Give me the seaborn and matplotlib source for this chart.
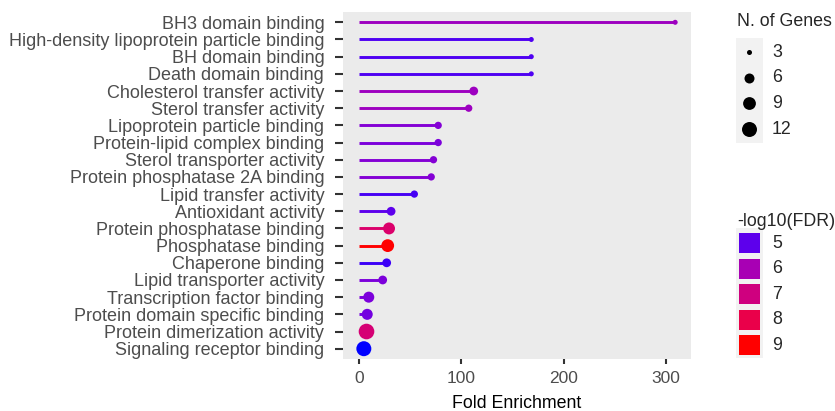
import numpy as np
import pandas as pd
import matplotlib
matplotlib.use("Agg")
import matplotlib.pyplot as plt
from matplotlib.colors import ListedColormap, Normalize
from matplotlib.patches import Rectangle
from matplotlib.lines import Line2D
import seaborn as sns

# GO molecular-function enrichment results
terms = [
    "BH3 domain binding",
    "High-density lipoprotein particle binding",
    "BH domain binding",
    "Death domain binding",
    "Cholesterol transfer activity",
    "Sterol transfer activity",
    "Lipoprotein particle binding",
    "Protein-lipid complex binding",
    "Sterol transporter activity",
    "Protein phosphatase 2A binding",
    "Lipid transfer activity",
    "Antioxidant activity",
    "Protein phosphatase binding",
    "Phosphatase binding",
    "Chaperone binding",
    "Lipid transporter activity",
    "Transcription factor binding",
    "Protein domain specific binding",
    "Protein dimerization activity",
    "Signaling receptor binding",
]
fold_enrichment = [308.9, 168.4, 168.4, 168.4, 112.2, 107.3, 77.5, 77.5, 72.9, 70.7,
                   54.2, 31.5, 29.5, 28.2, 27.2, 23.3, 9.7, 8.2, 7.5, 4.9]
n_genes = [3, 3, 3, 3, 5, 4, 4, 4, 4, 4, 4, 5, 8, 9, 5, 5, 7, 7, 13, 12]
neg_log10_fdr = [5.8, 4.9, 4.9, 4.9, 5.8, 5.8, 5.4, 5.3, 5.4, 5.4,
                 4.85, 5.0, 7.4, 9.0, 4.8, 5.3, 5.3, 5.2, 7.2, 4.65]

size_legend_values = [3, 6, 9, 12]
color_legend_values = [5, 6, 7, 8, 9]

df = pd.DataFrame({"term": terms, "fe": fold_enrichment,
                   "genes": n_genes, "fdr": neg_log10_fdr})

W, H, DPI = 835, 411, 100
FONT = "Liberation Sans"
TICK_GRAY = "#4D4D4D"

# ---- blue -> red gradient interpolated in CIE Lab ----
_M = np.array([[0.4124564, 0.3575761, 0.1804375],
               [0.2126729, 0.7151522, 0.0721750],
               [0.0193339, 0.1191920, 0.9503041]])
_WHITE = np.array([0.95047, 1.0, 1.08883])


def srgb_to_lab(rgb):
    rgb = np.asarray(rgb, float)
    lin = np.where(rgb <= 0.04045, rgb / 12.92, ((rgb + 0.055) / 1.055) ** 2.4)
    t = (_M @ lin) / _WHITE
    d = 6 / 29
    f = np.where(t > d ** 3, np.cbrt(t), t / (3 * d * d) + 4 / 29)
    return np.array([116 * f[1] - 16, 500 * (f[0] - f[1]), 200 * (f[1] - f[2])])


def lab_to_srgb(lab):
    L, a, b = lab
    fy = (L + 16) / 116
    f = np.array([fy + a / 500, fy, fy - b / 200])
    d = 6 / 29
    t = np.where(f > d, f ** 3, 3 * d * d * (f - 4 / 29))
    lin = np.clip(np.linalg.inv(_M) @ (t * _WHITE), 0, 1)
    rgb = np.where(lin <= 0.0031308, 12.92 * lin, 1.055 * lin ** (1 / 2.4) - 0.055)
    return np.clip(rgb, 0, 1)


lab_lo = srgb_to_lab([0, 0, 1])
lab_hi = srgb_to_lab([1, 0, 0])
cmap = ListedColormap([lab_to_srgb(lab_lo + t * (lab_hi - lab_lo))
                       for t in np.linspace(0, 1, 256)])
norm = Normalize(min(neg_log10_fdr), max(neg_log10_fdr))


# ---- point size scale (diameter in px, sqrt-area style) ----
def diameter_px(n):
    return 2.5 + 4.074 * np.sqrt(max(n - 2.62, 0))


def area_pt2(n):
    return (diameter_px(n) * 72 / DPI) ** 2


size_map = {n: area_pt2(n) for n in sorted(set(n_genes))}

# ---- figure ----
sns.set_theme(style="white")
plt.rcParams["font.family"] = [FONT, "DejaVu Sans"]

fig = plt.figure(figsize=(W / DPI, H / DPI), dpi=DPI)
px_l, px_r, px_t, px_b = 343, 691, 12, 359
ax = fig.add_axes([px_l / W, 1 - px_b / H, (px_r - px_l) / W, (px_b - px_t) / H])
ax.set_facecolor("#EBEBEB")
for s in ax.spines.values():
    s.set_visible(False)

stem_colors = [cmap(norm(v)) for v in neg_log10_fdr]
ax.hlines(df["term"], 0, df["fe"], colors=stem_colors, linewidth=2.1,
          capstyle="butt", zorder=1)
sns.scatterplot(data=df, x="fe", y="term", hue="fdr", size="genes",
                palette=cmap, hue_norm=norm, sizes=size_map,
                linewidth=0, legend=False, ax=ax, zorder=2)

fe_max = max(fold_enrichment)
ax.set_xlim(-0.05 * fe_max, 1.05 * fe_max)
ax.set_ylim(len(terms) - 0.4, -0.6)
ax.set_xticks([0, 100, 200, 300])
ax.grid(False)

ax.tick_params(axis="y", length=5.5, width=1.5, color="#333333",
               labelcolor=TICK_GRAY, labelsize=13, pad=8, left=True)
ax.tick_params(axis="x", length=3.8, width=1.5, color="#333333",
               labelcolor=TICK_GRAY, labelsize=12.5, pad=4.5, bottom=True)
ax.set_ylabel("")
ax.set_xlabel("Fold Enrichment", fontsize=12.8, color="black", labelpad=6.5)


# ---- legends drawn in pixel coordinates ----
def fx(x):
    return x / W


def fy(y):
    return 1 - y / H


# size legend
fig.text(fx(737), fy(21.5), "N. of Genes", fontsize=12.8, va="center", ha="left")
fig.add_artist(Rectangle((fx(736), fy(143)), (762.7 - 736) / W, (143 - 38) / H,
                         transform=fig.transFigure, facecolor="#F2F2F2",
                         edgecolor="none"))
for i, n in enumerate(size_legend_values):
    yc = 52 + i * 25.7
    fig.add_artist(Line2D([fx(749.3)], [fy(yc)], marker="o", linestyle="none",
                          markersize=diameter_px(n) * 72 / DPI,
                          markerfacecolor="black", markeredgewidth=0,
                          transform=fig.transFigure))
    fig.text(fx(772), fy(yc), str(n), fontsize=12.8, va="center", ha="left")

# colour legend
fig.text(fx(737), fy(221), "-log10(FDR)", fontsize=12.8, va="center", ha="left")
fig.add_artist(Rectangle((fx(736), fy(358)), (762.7 - 736) / W, (358 - 228) / H,
                         transform=fig.transFigure, facecolor="#F2F2F2",
                         edgecolor="none"))
for i, v in enumerate(color_legend_values):
    yc = 243 + i * 25.6
    fig.add_artist(Rectangle((fx(738.5), fy(yc + 10)), 21.5 / W, 20 / H,
                             transform=fig.transFigure,
                             facecolor=cmap(norm(v)), edgecolor="none"))
    fig.text(fx(772), fy(yc), str(v), fontsize=12.8, va="center", ha="left")

fig.savefig("out.png", dpi=DPI, facecolor="white")
